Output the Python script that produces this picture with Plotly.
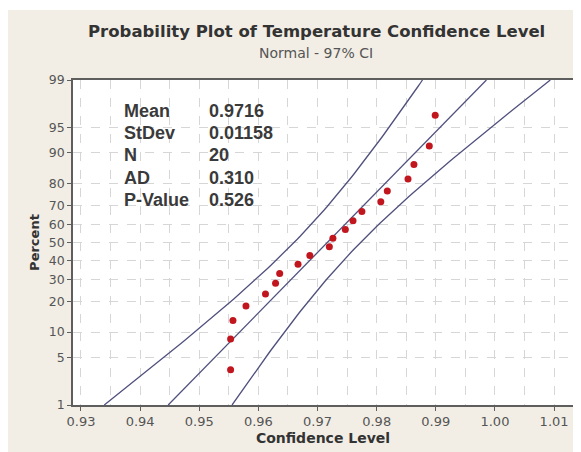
import plotly.graph_objects as go
from statistics import NormalDist
import math

# ---- data ----
conf_level = [0.9553, 0.9553, 0.9557, 0.9579, 0.9612, 0.9629, 0.9636, 0.9667, 0.9687, 0.9720,
              0.9726, 0.9747, 0.9760, 0.9775, 0.9807, 0.9818, 0.9853, 0.9863, 0.9889, 0.9899]
percent_ticks = [1, 5, 10, 20, 30, 40, 50, 60, 70, 80, 90, 95, 99]
stat_labels = ["Mean", "StDev", "N", "AD", "P-Value"]
stat_values = ["0.9716", "0.01158", "20", "0.310", "0.526"]
ci_level = 0.97
title_text = "Probability Plot of Temperature Confidence Level"
subtitle_text = "Normal - 97% CI"

nd = NormalDist()
n = len(conf_level)
xs = sorted(conf_level)
# Benard median ranks -> normal scores
ys = [nd.inv_cdf((i + 1 - 0.3) / (n + 0.4)) for i in range(n)]

mean = sum(xs) / n
sd = math.sqrt(sum((v - mean) ** 2 for v in xs) / (n - 1))
zc = nd.inv_cdf(1 - (1 - ci_level) / 2)

zlo, zhi = nd.inv_cdf(0.01), nd.inv_cdf(0.99)
zgrid = [zlo + (zhi - zlo) * k / 100 for k in range(101)]
fit_x = [mean + z * sd for z in zgrid]
hw = [zc * sd * math.sqrt((1 + z * z / 2) / n) for z in zgrid]
lo_x = [f - h for f, h in zip(fit_x, hw)]
hi_x = [f + h for f, h in zip(fit_x, hw)]

line_col = "#50507e"
fig = go.Figure()
for xx in (lo_x, fit_x, hi_x):
    fig.add_trace(go.Scatter(x=xx, y=zgrid, mode="lines",
                             line=dict(color=line_col, width=1.3), hoverinfo="skip",
                             showlegend=False))
fig.add_trace(go.Scatter(x=xs, y=ys, mode="markers",
                         marker=dict(color="#c2161f", size=7), showlegend=False))

# page body adds an 8px offset, so the figure is 8px smaller than the window
OFF = 8
W, H = 581 - OFF, 452 - OFF
L, R, T, B = 65, 8, 72, 47
pw, ph = W - L - R, H - T - B


def px(xr):
    return (xr - OFF - L) / pw


def py(yr):
    return (H - B - (yr - OFF)) / ph


grid = dict(gridcolor="#d6d6d6", griddash="dash", gridwidth=1)
fig.update_layout(
    width=W, height=H,
    margin=dict(l=L, r=R, t=T, b=B, autoexpand=False),
    paper_bgcolor="#f2eee5", plot_bgcolor="white",
    font=dict(family="DejaVu Sans", color="#555555", size=12),
    xaxis=dict(range=[0.92865, 1.0132], tick0=0.93, dtick=0.01, tickformat=".2f",
               automargin=False,
               showline=True, mirror=True, linecolor="#5e5e5e", linewidth=1.5,
               ticks="outside", ticklen=4, tickcolor="#5e5e5e", zeroline=False,
               showgrid=True, **grid,
               minor=dict(dtick=0.005, tick0=0.93, showgrid=True, **grid),
               tickfont=dict(size=13, color="#555555"),
               title=dict(text="<b>Confidence Level</b>", standoff=5,
                          font=dict(size=14, color="#333333"))),
    yaxis=dict(range=[zlo, zhi], tickmode="array",
               automargin=False,
               tickvals=[nd.inv_cdf(p / 100) for p in percent_ticks],
               ticktext=[str(p) for p in percent_ticks],
               showline=True, mirror=True, linecolor="#5e5e5e", linewidth=1.5,
               ticks="outside", ticklen=4, tickcolor="#5e5e5e", zeroline=False,
               showgrid=True, **grid,
               tickfont=dict(size=12.5, color="#555555"),
               title=dict(text="<b>Percent</b>", standoff=6,
                          font=dict(size=13, color="#333333"))),
    shapes=[
        dict(type="rect", xref="paper", yref="paper", x0=px(0), x1=px(600),
             y0=py(10), y1=py(0), fillcolor="white", line=dict(width=0), layer="below"),
    ],
)

anns = [
    dict(text="<b>" + title_text + "</b>", x=px(316), y=py(32), xref="paper", yref="paper",
         showarrow=False, xanchor="center", yanchor="middle",
         font=dict(size=16.5, color="#333333", family="DejaVu Sans")),
    dict(text=subtitle_text, x=px(316), y=py(53), xref="paper", yref="paper",
         showarrow=False, xanchor="center", yanchor="middle",
         font=dict(size=14, color="#555555", family="DejaVu Sans")),
]
row_y = [111, 133, 155, 178, 200]
for lab, val, yy in zip(stat_labels, stat_values, row_y):
    anns.append(dict(text="<b>" + lab + "</b>", x=px(122), y=py(yy), xref="paper", yref="paper",
                     showarrow=False, xanchor="left", yanchor="middle",
                     font=dict(size=18, color="#3a3a3a", family="Liberation Sans")))
    anns.append(dict(text="<b>" + val + "</b>", x=px(207), y=py(yy), xref="paper", yref="paper",
                     showarrow=False, xanchor="left", yanchor="middle",
                     font=dict(size=18, color="#3a3a3a", family="Liberation Sans")))
fig.update_layout(annotations=anns)

fig.write_html("out.html")
